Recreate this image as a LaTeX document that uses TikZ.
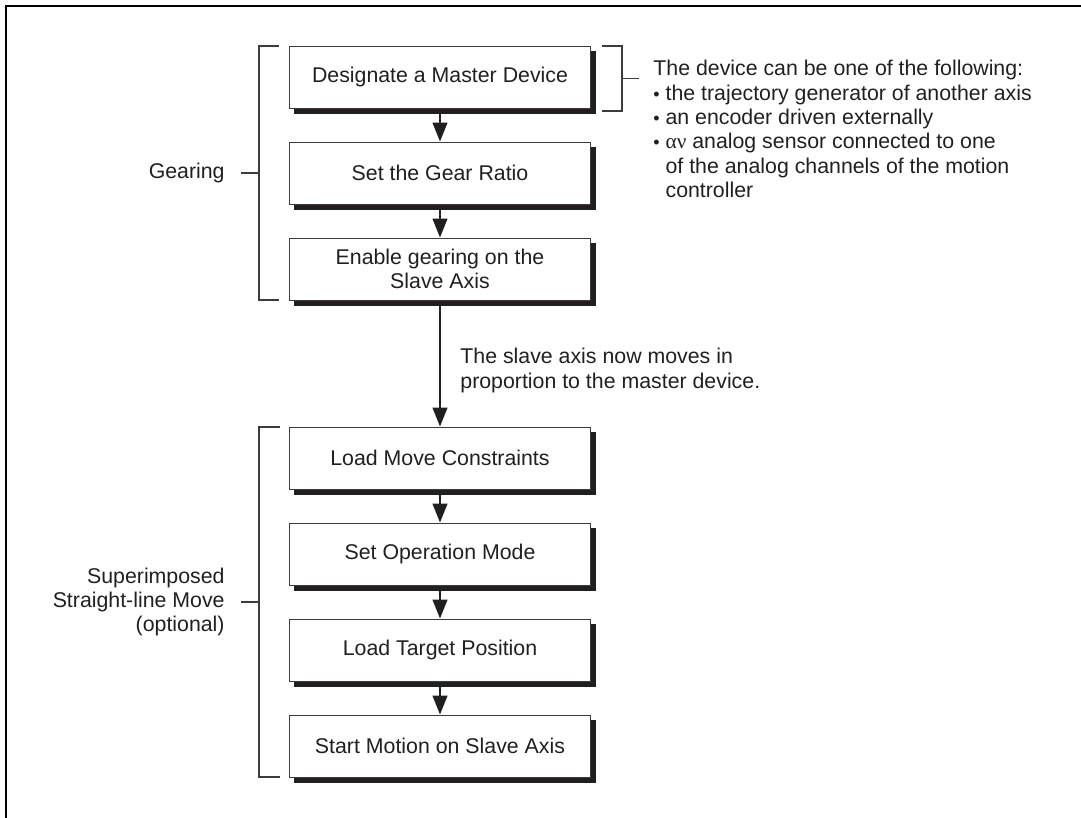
\documentclass[tikz,border=0pt]{standalone}
\usepackage{fontspec}
\setmainfont{Liberation Sans}
\newfontfamily\greekfont{Liberation Serif}
\definecolor{nidark}{RGB}{35,31,32}
\definecolor{niline}{RGB}{60,60,60}
\usetikzlibrary{arrows.meta,positioning,calc}

\begin{document}
\begin{tikzpicture}[
  x=0.5bp, y=-0.5bp,
  every node/.style={font=\fontsize{10.7}{12.2}\selectfont,text=nidark},
  stepbox/.style={draw=niline,line width=0.5bp,fill=white,
                  minimum width=150bp,minimum height=31bp,inner sep=2bp,align=center},
  flow/.style={-{Triangle[length=9.5bp,width=7.5bp]},line width=0.6bp,draw=nidark},
  bracket/.style={line width=0.6bp,draw=niline},
  boxshadow/.style={draw=nidark,line width=2.5bp,line join=miter},
]
  \useasboundingbox (0,0) rectangle (1081,818);

  % frame
  \draw[line width=1bp,black] (6,818) -- (6,6) -- (1081,6);

  % Gearing steps
  \node[stepbox] (master) at (440,77)  {Designate a Master Device};
  \node[stepbox] (ratio)  at (440,173) {Set the Gear Ratio};
  \node[stepbox] (enable) at (440,269) {Enable gearing on the\\Slave Axis};
  \draw[flow] (master) -- (ratio);
  \draw[flow] (ratio) -- (enable);

  % Superimposed move steps
  \node[stepbox] (constr) at (440,458) {Load Move Constraints};
  \node[stepbox] (opmode) at (440,554) {Set Operation Mode};
  \node[stepbox] (target) at (440,650) {Load Target Position};
  \node[stepbox] (start)  at (440,746) {Start Motion on Slave Axis};
  \draw[flow] (enable) -- (constr);
  \draw[flow] (constr) -- (opmode);
  \draw[flow] (opmode) -- (target);
  \draw[flow] (target) -- (start);

  % box shadows
  \foreach \bx in {master,ratio,enable,constr,opmode,target,start}
    \draw[boxshadow] ($(\bx.south west)+(5,2.5)$) -- ($(\bx.south east)+(2.5,2.5)$)
      -- ($(\bx.north east)+(2.5,5)$);

  \node[anchor=north west,inner sep=0,align=left] (proportion) at (460,348)
    {The slave axis now moves in\\proportion to the master device.};

  % left brackets
  \draw[bracket] (279,46) -- (259,46) -- (259,300) -- (279,300);
  \draw[bracket] (259,173) -- (241,173);
  \node[anchor=east,inner sep=0] (gearing) at (225,173) {Gearing};

  \draw[bracket] (280,427) -- (259,427) -- (259,777) -- (280,777);
  \draw[bracket] (259,602) -- (241,602);
  \node[anchor=east,inner sep=0,align=right] (superimp) at (225,602)
    {Superimposed\\Straight-line Move\\(optional)};

  % master device note
  \draw[bracket] (602,46) -- (622,46) -- (622,111) -- (602,111);
  \draw[bracket] (622,78.5) -- (639,78.5);
  \node[anchor=north west,inner sep=0,align=left] (devices) at (653,60)
    {The device can be one of the following:\\
     {\small\textbullet}\ the trajectory generator of another axis\\
     {\small\textbullet}\ an encoder driven externally\\
     {\small\textbullet}\ {\greekfont αν} analog sensor connected to one\\
     \hphantom{{\small\textbullet}\ }of the analog channels of the motion\\
     \hphantom{{\small\textbullet}\ }controller};
\end{tikzpicture}
\end{document}
